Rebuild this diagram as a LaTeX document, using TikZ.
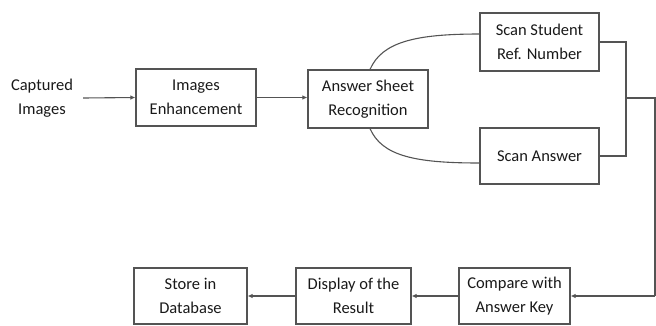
\documentclass[tikz,border=0pt]{standalone}
\usepackage{fontspec}
\setmainfont{Carlito}
\usetikzlibrary{arrows.meta}
\definecolor{linegray}{gray}{0.33}
\definecolor{txt}{gray}{0.1}
\begin{document}
\begin{tikzpicture}[x=1pt,y=-1pt,
  box/.style={draw=linegray,line width=1.1pt,inner sep=0pt,align=center,
    font=\fontsize{16.5}{23.5}\selectfont,text=txt},
  lbl/.style={inner sep=0pt,align=center,font=\fontsize{16.5}{23.5}\selectfont,text=txt},
  conn/.style={draw=linegray,line width=1.1pt},
  arr/.style={conn,-{Latex[length=5pt,width=4.5pt]}}]
\useasboundingbox (0,0) rectangle (656,325);
\node[lbl] (cap) at (42,98) {Captured\\Images};
\node[box,minimum width=120pt,minimum height=57pt] (ie) at (196,97.5) {Images\\Enhancement};
\node[box,minimum width=120pt,minimum height=58pt] (asr) at (368,99) {Answer Sheet\\Recognition};
\node[box,minimum width=119pt,minimum height=58pt] (ssr) at (539.5,42) {Scan Student\\Ref. Number};
\node[box,minimum width=119pt,minimum height=56pt] (sa) at (539.5,156) {Scan Answer};
\node[box,minimum width=113pt,minimum height=56pt] (sdb) at (190.5,296) {Store in\\Database};
\node[box,minimum width=115pt,minimum height=56pt] (dis) at (353.5,296) {Display of the\\Result};
\node[box,minimum width=111pt,minimum height=56pt] (cmp) at (514.5,296) {Compare with\\Answer Key};
\coordinate (j) at (626,98);
\coordinate (r) at (655,98);
\coordinate (rb) at (655,296);
\draw[arr] ([xshift=10pt]cap.east) -- (ie.west);
\draw[arr] (ie.east) -- (asr.west |- ie.east);
\draw[conn] ([xshift=2pt]asr.north) .. controls (382,42) and (415,34) .. ([yshift=8pt]ssr.west);
\draw[conn] ([xshift=2pt]asr.south) .. controls (382,156) and (415,163) .. ([yshift=-7pt]sa.west);
\draw[conn] (ssr.east) -| (j) |- (sa.east);
\draw[conn] (j) -- (r) -- (rb);
\draw[arr] (rb) -- (cmp.east);
\draw[arr] (cmp.west) -- (dis.east);
\draw[arr] (dis.west) -- (sdb.east);
\end{tikzpicture}
\end{document}
